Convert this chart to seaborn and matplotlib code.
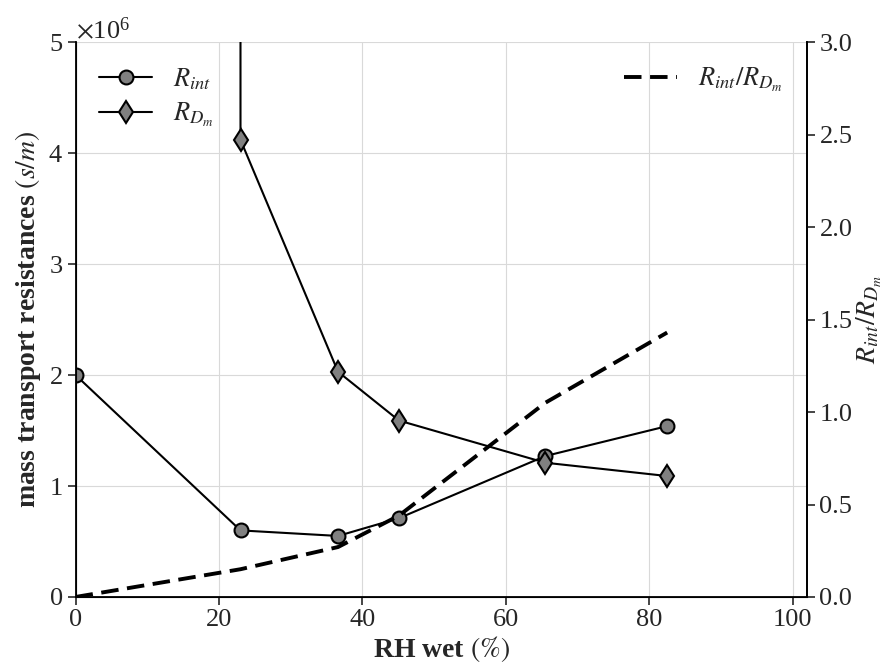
import pandas as pd
import matplotlib.pyplot as plt
import seaborn as sns

# RH wet (%) at each measurement
rh_int = [0, 23.0, 36.6, 45.1, 65.5, 82.5]
r_int = [2.00e6, 0.60e6, 0.55e6, 0.71e6, 1.27e6, 1.54e6]

# R_Dm blows up at 0 % RH (off the top of the chart)
rh_dm = [0, 23.0, 36.6, 45.1, 65.5, 82.5]
r_dm = [1.0e10, 4.12e6, 2.03e6, 1.59e6, 1.21e6, 1.09e6]

rh_ratio = [0, 23.0, 36.6, 45.1, 65.5, 82.5]
ratio = [0.0, 0.15, 0.27, 0.44, 1.05, 1.43]

sns.set_style("whitegrid", {
    "axes.edgecolor": "black",
    "grid.color": "#d9d9d9",
    "xtick.bottom": True,
    "ytick.left": True,
    "ytick.right": True,
})
plt.rcParams["font.family"] = ["Liberation Serif", "DejaVu Serif"]
plt.rcParams["mathtext.fontset"] = "stix"

FS_TICK = 19
FS_LAB = 20
FS_LEG = 19

df_int = pd.DataFrame({"rh": rh_int, "val": r_int})
df_dm = pd.DataFrame({"rh": rh_dm, "val": r_dm})
df_ratio = pd.DataFrame({"rh": rh_ratio, "val": ratio})

fig = plt.figure(figsize=(8.87, 6.70), dpi=100)
ax = fig.add_axes([0.0852, 0.109, 0.8246, 0.828])

sns.lineplot(data=df_int, x="rh", y="val", ax=ax, color="black", linewidth=1.5,
             marker="o", markersize=10, markerfacecolor="gray",
             markeredgecolor="black", markeredgewidth=1.5, label=r"$R_{int}$")
sns.lineplot(data=df_dm, x="rh", y="val", ax=ax, color="black", linewidth=1.5,
             marker="d", markersize=11.5, markerfacecolor="gray",
             markeredgecolor="black", markeredgewidth=1.5, label=r"$R_{D_m}$")

ax.set_xlim(0, 102)
ax.set_ylim(0, 5e6)
ax.set_xticks([0, 20, 40, 60, 80, 100])
ax.set_yticks([0, 1e6, 2e6, 3e6, 4e6, 5e6])
ax.ticklabel_format(axis="y", style="sci", scilimits=(0, 0), useMathText=True)
ax.yaxis.get_offset_text().set_fontsize(FS_TICK)
ax.tick_params(labelsize=FS_TICK, length=6, width=1.2, direction="out", pad=3)
ax.set_xlabel(r"RH wet $\mathrm{(\%)}$", fontsize=FS_LAB, fontweight="bold", labelpad=2)
ax.set_ylabel(r"mass transport resistances $(s/m)$", fontsize=FS_LAB,
              fontweight="bold", labelpad=4)
ax.spines["top"].set_visible(False)
for s in ["left", "bottom", "right"]:
    ax.spines[s].set_linewidth(1.3)
ax.legend(loc="upper left", frameon=False, fontsize=FS_LEG, handlelength=2.0,
          borderaxespad=0.5, labelspacing=0.35)

ax2 = ax.twinx()
sns.lineplot(data=df_ratio, x="rh", y="val", ax=ax2, color="black", linewidth=2.8,
             linestyle=(0, (4.5, 2.2)), label=r"$R_{int}/R_{D_m}$")
ax2.set_ylim(0, 3.0)
ax2.set_yticks([0, 0.5, 1.0, 1.5, 2.0, 2.5, 3.0])
ax2.set_yticklabels(["0.0", "0.5", "1.0", "1.5", "2.0", "2.5", "3.0"])
ax2.grid(False)
ax2.set_xlabel("")
ax2.set_ylabel(r"$R_{int}/R_{D_m}$", fontsize=FS_LAB, labelpad=2)
ax2.tick_params(labelsize=FS_TICK, length=6, width=1.2, direction="out", pad=3)
ax2.spines["top"].set_visible(False)
ax2.spines["right"].set_linewidth(1.3)
ax2.legend(loc="upper right", frameon=False, fontsize=FS_LEG, handlelength=2.0,
           borderaxespad=0.5)

plt.savefig("out.png", dpi=100)
plt.close()
